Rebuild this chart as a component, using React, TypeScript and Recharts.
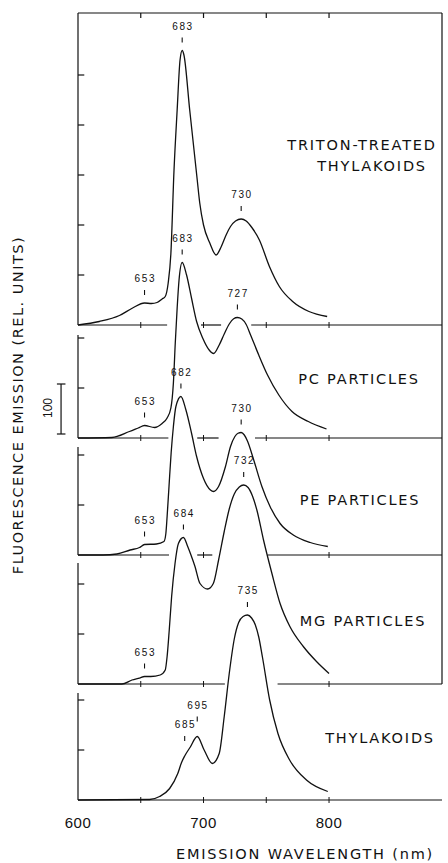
import React from 'react';
import { ComposedChart, Line, Scatter, XAxis, YAxis, ReferenceLine } from 'recharts';

// [wavelength nm, intensity rel. units]
const tritonSpectrum: [number, number][] = [
  [600, 0], [617, 7], [633, 19], [643.5, 34], [653, 44], [658.5, 43], [663, 45], [667, 52],
  [669.5, 57], [671.8, 83], [674, 143], [676.5, 310], [679, 430], [681.3, 530], [683, 549],
  [684.4, 540], [689, 430], [695, 290], [697, 244], [700, 200], [705, 164], [710, 140],
  [714, 156], [718, 180], [721.5, 197], [725.5, 208], [730, 212], [734, 208], [738.5, 195],
  [744.5, 170], [752.5, 117], [760.4, 77], [771, 47], [784, 27], [798.5, 17],
];
const pcSpectrum: [number, number][] = [
  [600, 0], [627, 1], [641, 13], [648, 20], [653, 25], [661, 21], [667, 29], [671, 40],
  [674, 60], [676, 110], [677.5, 190], [679, 260], [680.5, 316], [683, 351], [686.5, 326],
  [690.5, 279], [694.5, 233], [699.5, 199], [704.5, 176], [708, 169], [712.5, 186], [716.5, 208],
  [720.5, 228], [724, 238.5], [727, 241], [730.5, 238], [734, 227], [737.5, 206], [744, 166],
  [751, 126], [760, 86], [770.5, 53], [783.5, 33], [798, 18],
];
const peSpectrum: [number, number][] = [
  [600, 0], [620, 0], [631, 2], [641.5, 10], [649, 15], [653, 21], [662.5, 22], [668.5, 27],
  [670, 43], [671, 77], [672.5, 137], [674.2, 204], [676, 257], [678, 297], [682, 317],
  [686, 290], [690.5, 243], [694.5, 197], [700, 153], [705.5, 130], [708, 127], [712, 137],
  [717.5, 177], [721.5, 217], [725, 237], [727.5, 243.5], [730, 245], [732.5, 240], [735, 228],
  [740, 190], [746.5, 137], [753, 97], [761, 63], [771.5, 40], [785, 25], [799, 17],
];
const mgSpectrum: [number, number][] = [
  [600, 0], [635, 0], [643, 8], [649, 12], [653, 15], [658, 15], [665.5, 18], [669.5, 28],
  [671, 55], [672.7, 108], [674.6, 175], [677.3, 241], [680, 281], [684, 293], [687.4, 275],
  [690, 258], [693.2, 235], [697.2, 201], [703.3, 190], [707.8, 201], [712, 248], [716.5, 305],
  [720.5, 350], [724.5, 380], [728.5, 394], [732, 398], [735.5, 393], [739, 376], [742.5, 348],
  [747.8, 288], [754.5, 221], [761, 161], [768.8, 115], [779.5, 75], [790, 45], [800, 21],
];
const thylakoidSpectrum: [number, number][] = [
  [600, 0], [657, 1], [665, 7], [673, 23], [679.5, 53], [682.5, 75], [685, 88], [689.5, 106],
  [695, 127], [700.5, 100], [707, 73], [712.5, 93], [716.5, 167], [720.5, 253], [724.5, 322],
  [728, 355], [731.5, 367], [735, 370], [738.3, 364], [741.3, 350], [744, 326], [747, 285],
  [752.7, 200], [759.3, 133], [768.6, 80], [782, 40], [799, 17],
];

// labelled maxima / shoulders per trace (nm)
const tritonPeaks = [653, 683, 730];
const pcPeaks = [653, 683, 727];
const pePeaks = [653, 682, 730];
const mgPeaks = [653, 684, 732];
const thylakoidPeaks = [685, 695, 735];

const panelNames = ['TRITON-TREATED THYLAKOIDS', 'PC PARTICLES', 'PE PARTICLES', 'MG PARTICLES', 'THYLAKOIDS'];
// baseline of each trace, in intensity units above the lowest one
const baselineOffsets = [950, 724, 490, 232, 0];
// left axis per panel: ticks and how far the axis line reaches
const panelTicks = [[100, 200, 300, 400, 500], [100, 200], [100, 200], [100, 200], [100, 200]];
const axisHeights = [624, 206, 216, 242, 214];
const xTicks = [600, 700, 800];
const frameTicks = [650, 700, 750, 800];
// baseline pieces; left open where the trace below crosses
const baselinePieces: [number, number][][] = [
  [[600, 671], [698, 714], [738, 890]],
  [[600, 672], [695, 712], [741, 890]],
  [[600, 672.5], [695, 707], [751, 890]],
  [[600, 717], [759, 890]],
  [[600, 890]],
];
const scaleBar = [732, 832]; // 100 units

const X_MIN = 600;
const X_MAX = 890;
const Y_MAX = 1574;
const INK = '#111';
const FONT = '"DejaVu Sans", sans-serif';
const NUM_FONT = '"Liberation Sans", Arial, sans-serif';
// extra lift for labels that sit higher above their mark
const raisedMarks: Record<number, number> = { 685: 7, 695: 7 };

const spectra = [tritonSpectrum, pcSpectrum, peSpectrum, mgSpectrum, thylakoidSpectrum];
const peaks = [tritonPeaks, pcPeaks, pePeaks, mgPeaks, thylakoidPeaks];

const valueAt = (spec: [number, number][], nm: number) => {
  const p = spec.find((d) => d[0] === nm);
  return p ? p[1] : 0;
};

const PeakMark = (props: any) => {
  const { cx, cy, payload } = props;
  if (cx == null || cy == null) return null;
  const lift = raisedMarks[payload.nm] ?? 0;
  return (
    <g>
      <line x1={cx} x2={cx} y1={cy - 13 - lift} y2={cy - 8 - lift} stroke={INK} strokeWidth={1.1} />
      <text
        x={cx + 0.8}
        y={cy - 21 - lift}
        textAnchor="middle"
        fontSize={10}
        letterSpacing={1.6}
        fontFamily={NUM_FONT}
        fill={INK}
      >
        {payload.nm}
      </text>
    </g>
  );
};

const XTick = (props: any) => {
  const { x, y, payload } = props;
  return (
    <text x={x} y={y + 20} textAnchor="middle" fontSize={15} letterSpacing={0.5} fontFamily={NUM_FONT} fill={INK}>
      {payload.value}
    </text>
  );
};

const seg = (key: string, x1: number, y1: number, x2: number, y2: number, w = 1.2) => (
  <ReferenceLine
    key={key}
    segment={[{ x: x1, y: y1 }, { x: x2, y: y2 }]}
    stroke={INK}
    strokeWidth={w}
    ifOverflow="visible"
  />
);

export default function App() {
  const tickW = 5; // nm, length of the inward axis ticks
  const frame: React.ReactNode[] = [];

  // top edge with ticks and right edge
  frame.push(seg('top', X_MIN, Y_MAX, X_MAX, Y_MAX));
  frameTicks.forEach((t) => frame.push(seg(`tt${t}`, t, Y_MAX, t, Y_MAX - 10)));
  frame.push(seg('right', X_MAX, baselineOffsets[3], X_MAX, Y_MAX));

  baselineOffsets.forEach((off, i) => {
    // left axis and its ticks
    frame.push(seg(`ax${i}`, X_MIN, off, X_MIN, off + axisHeights[i]));
    panelTicks[i].forEach((t) => frame.push(seg(`ay${i}-${t}`, X_MIN, off + t, X_MIN + tickW, off + t)));
    // baseline and its crosses
    baselinePieces[i].forEach(([a, b], j) => {
      frame.push(seg(`b${i}-${j}`, a, off, b, off));
      frameTicks
        .filter((t) => t > a && t < b)
        .forEach((t) => frame.push(seg(`bt${i}-${t}`, t, off - 6, t, off + 6, 1)));
    });
  });

  // 100-unit scale bar
  frame.push(seg('sb', 586.5, scaleBar[0], 586.5, scaleBar[1]));
  frame.push(seg('sb0', 583.2, scaleBar[0], 590, scaleBar[0]));
  frame.push(seg('sb1', 583.2, scaleBar[1], 590, scaleBar[1]));

  const labelStyle = { fontFamily: FONT, fontSize: 14.5, letterSpacing: 1.8, fill: INK } as const;

  return (
    <div style={{ position: 'absolute', left: 0, top: 0, width: 448, height: 863, background: '#fff' }}>
      <ComposedChart width={448} height={863} margin={{ top: 13, right: 6, bottom: 23, left: 78 }}>
        <XAxis
          dataKey="nm"
          type="number"
          domain={[X_MIN, X_MAX]}
          ticks={xTicks}
          axisLine={false}
          tickLine={false}
          height={40}
          tick={<XTick />}
        />
        <YAxis type="number" domain={[0, Y_MAX]} hide />
        {frame}
        {spectra.map((spec, i) => (
          <Line
            key={`line${i}`}
            data={spec.map(([nm, v]) => ({ nm, y: v + baselineOffsets[i] }))}
            dataKey="y"
            type="monotone"
            stroke={INK}
            strokeWidth={1.3}
            dot={false}
            activeDot={false}
            isAnimationActive={false}
          />
        ))}
        {peaks.map((list, i) => (
          <Scatter
            key={`pk${i}`}
            data={list.map((nm) => ({ nm, y: valueAt(spectra[i], nm) + baselineOffsets[i] }))}
            dataKey="y"
            shape={<PeakMark />}
            isAnimationActive={false}
          />
        ))}
      </ComposedChart>
      <svg
        width={448}
        height={863}
        style={{ position: 'absolute', left: 0, top: 0, pointerEvents: 'none' }}
      >
        <text x={362} y={145} textAnchor="middle" dominantBaseline="central" {...labelStyle}>
          TRITON-TREATED
        </text>
        <text x={372} y={166} textAnchor="middle" dominantBaseline="central" {...labelStyle}>
          THYLAKOIDS
        </text>
        <text x={359} y={379} textAnchor="middle" dominantBaseline="central" {...labelStyle}>
          {panelNames[1]}
        </text>
        <text x={360} y={500} textAnchor="middle" dominantBaseline="central" {...labelStyle}>
          {panelNames[2]}
        </text>
        <text x={363} y={621} textAnchor="middle" dominantBaseline="central" {...labelStyle}>
          {panelNames[3]}
        </text>
        <text x={380} y={738} textAnchor="middle" dominantBaseline="central" {...labelStyle}>
          {panelNames[4]}
        </text>
        <text
          x={18}
          y={405}
          transform="rotate(-90 18 405)"
          textAnchor="middle"
          dominantBaseline="central"
          {...labelStyle}
          letterSpacing={1.5}
        >
          FLUORESCENCE EMISSION (REL. UNITS)
        </text>
        <text
          x={48}
          y={408}
          transform="rotate(-90 48 408)"
          textAnchor="middle"
          dominantBaseline="central"
          fontFamily={NUM_FONT}
          fontSize={12}
          fill={INK}
        >
          100
        </text>
        <text x={305} y={854} textAnchor="middle" dominantBaseline="central" {...labelStyle} letterSpacing={1.8}>
          EMISSION WAVELENGTH (nm)
        </text>
      </svg>
    </div>
  );
}
